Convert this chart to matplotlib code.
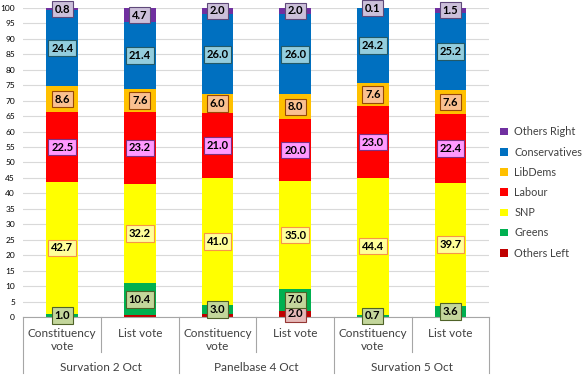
import numpy as np
import matplotlib.pyplot as plt
from matplotlib.patches import Patch

plt.rcParams['font.family'] = ['Lato', 'DejaVu Sans']

# categories
polls = ['Survation 2 Oct', 'Panelbase 4 Oct', 'Survation 5 Oct']
votes = ['Constituency\nvote', 'List vote'] * 3

# series, bottom to top
series = ['Others Left', 'Greens', 'SNP', 'Labour', 'LibDems', 'Conservatives', 'Others Right']
others_left = [0.0, 0.5, 1.0, 2.0, 0.0, 0.0]
greens = [1.0, 10.4, 3.0, 7.0, 0.7, 3.6]
snp = [42.7, 32.2, 41.0, 35.0, 44.4, 39.7]
labour = [22.5, 23.2, 21.0, 20.0, 23.0, 22.4]
libdems = [8.6, 7.6, 6.0, 8.0, 7.6, 7.6]
conservatives = [24.4, 21.4, 26.0, 26.0, 24.2, 25.2]
others_right = [0.8, 4.7, 2.0, 2.0, 0.1, 1.5]
values = [others_left, greens, snp, labour, libdems, conservatives, others_right]

bar_cols = ['#C00000', '#00B050', '#FFFF00', '#FF0000', '#FFC000', '#0070C0', '#7030A0']
box_face = ['#E6B9B8', '#C3D69B', '#FFFF99', '#FF99FF', '#FAC090', '#93CDDD', '#CCC0DA']
box_edge = ['#953735', '#4F6228', '#F79646', '#7F2F7F', '#984807', '#215968', '#5F497A']

fig = plt.figure(figsize=(5.84, 3.76), dpi=100)
ax = fig.add_axes([0.04, 0.157, 0.798, 0.822])

x = np.arange(6)
bottom = np.zeros(6)
for i, name in enumerate(series):
    v = np.array(values[i])
    ax.bar(x, v, 0.41, bottom=bottom, color=bar_cols[i], zorder=2)
    for j in range(6):
        show = v[j] > 0 and (name != 'Others Left' or v[j] >= 2)
        if show:
            ax.text(x[j], bottom[j] + v[j] / 2, '%.1f' % v[j], ha='center', va='center',
                    fontsize=8, fontweight='bold', zorder=4,
                    bbox=dict(boxstyle='square,pad=0.25', fc=box_face[i], ec=box_edge[i], lw=0.8))
    bottom += v

ax.set_xlim(-0.5, 5.5)
ax.set_ylim(0, 100)
ax.set_yticks(np.arange(0, 101, 5))
ax.tick_params(axis='y', labelsize=6, length=0, pad=6)
ax.grid(axis='y', color='#D9D9D9', lw=0.8, zorder=0)
for s in ['left', 'right', 'top']:
    ax.spines[s].set_visible(False)
ax.spines['bottom'].set_color('#A6A6A6')
ax.set_xticks([])

tr = ax.get_xaxis_transform()
for j in range(6):
    ax.text(x[j], -0.035, votes[j], transform=tr, ha='center', va='top', fontsize=8.5, color='#404040')
for g in range(3):
    ax.text(2 * g + 0.5, -0.165, polls[g], transform=tr, ha='center', va='center', fontsize=8.5, color='#404040')
    ax.plot([2 * g + 0.5, 2 * g + 0.5], [0, -0.113], transform=tr, color='#A6A6A6', lw=0.8, clip_on=False)
for b in [-0.5, 1.5, 3.5, 5.5]:
    ax.plot([b, b], [0, -0.181], transform=tr, color='#A6A6A6', lw=0.8, clip_on=False)

handles = [Patch(facecolor=bar_cols[i], edgecolor='none') for i in range(6, -1, -1)]
labels = [series[i] for i in range(6, -1, -1)]
fig.legend(handles, labels, loc='upper left', bbox_to_anchor=(0.84, 0.69), frameon=False,
           fontsize=7.8, handlelength=0.7, handleheight=0.7, handletextpad=0.6, labelspacing=0.85,
           labelcolor='#404040')

fig.savefig('out.png', dpi=100)
